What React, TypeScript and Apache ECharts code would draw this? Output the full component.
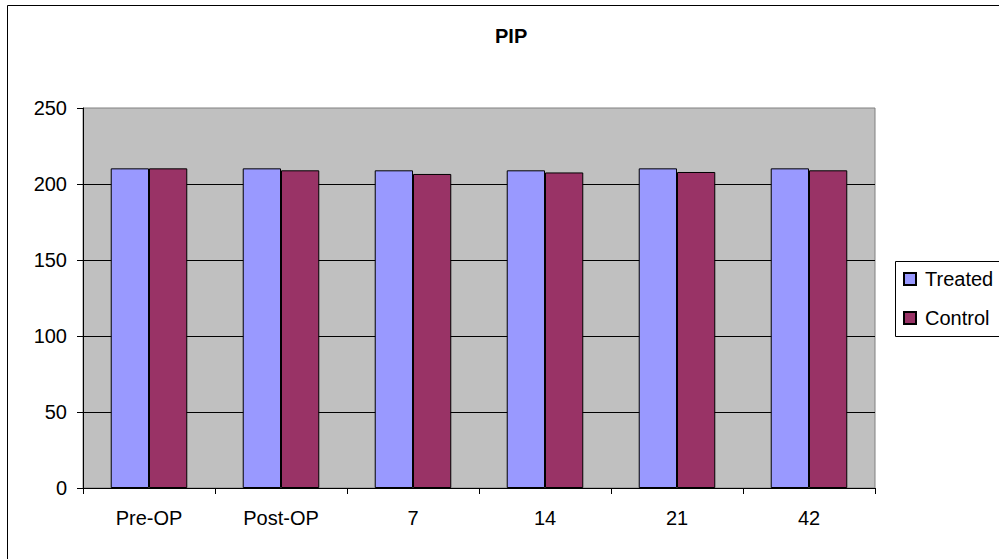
import React, { useEffect, useRef } from "react";
import * as echarts from "echarts";

const categories = ["Pre-OP", "Post-OP", "7", "14", "21", "42"];
const treated = [210.3, 210.3, 209, 209, 210.3, 210.3];
const control = [210.3, 209, 206.6, 207.6, 207.9, 209];
const seriesNames = ["Treated", "Control"];
const titleText = "PIP";

const FONT = "'Liberation Sans', Arial, Helvetica, sans-serif";

export default function App() {
  const ref = useRef<HTMLDivElement>(null);
  useEffect(() => {
    if (!ref.current) return;
    const chart = echarts.init(ref.current, undefined, { renderer: "svg" });
    chart.setOption({
      animation: false,
      backgroundColor: "#ffffff",
      textStyle: { fontFamily: FONT },
      title: {
        text: titleText,
        left: 495,
        top: 26,
        padding: 0,
        textStyle: { fontFamily: FONT, fontSize: 20, fontWeight: "bold", color: "#000" },
      },
      graphic: [
        {
          type: "rect",
          shape: { x: 7.5, y: 5.5, width: 1100, height: 700 },
          style: { fill: "none", stroke: "#000", lineWidth: 1 },
          silent: true,
          z: 100,
        },
        {
          type: "rect",
          shape: { x: 895.5, y: 261.5, width: 200, height: 75 },
          style: { fill: "#fff", stroke: "#000", lineWidth: 1 },
          silent: true,
          z: 1,
        },
      ],
      legend: {
        orient: "vertical",
        left: 903,
        top: 267,
        padding: 0,
        itemWidth: 12,
        itemHeight: 12,
        itemGap: 15,
        icon: "rect",
        data: seriesNames,
        z: 10,
        textStyle: { fontFamily: FONT, fontSize: 20, color: "#000", lineHeight: 24, padding: [0, 0, 0, 4] },
      },
      grid: {
        left: 83,
        right: 124,
        top: 108,
        bottom: 71,
        show: true,
        backgroundColor: "#c0c0c0",
        borderColor: "#808080",
        borderWidth: 1,
      },
      xAxis: {
        type: "category",
        data: categories,
        axisLine: { show: true, lineStyle: { color: "#000", width: 1 } },
        axisTick: { show: true, length: 6, lineStyle: { color: "#000" } },
        axisLabel: { fontFamily: FONT, fontSize: 20, color: "#000", margin: 20 },
        splitLine: { show: false },
      },
      yAxis: {
        type: "value",
        min: 0,
        max: 250,
        interval: 50,
        axisLine: { show: true, lineStyle: { color: "#000", width: 1 } },
        axisTick: { show: true, length: 6, lineStyle: { color: "#000" } },
        axisLabel: { fontFamily: FONT, fontSize: 20, color: "#000", margin: 16 },
        splitLine: { show: true, showMinLine: false, showMaxLine: false, lineStyle: { color: "#000", width: 1 } },
      },
      series: [
        {
          name: seriesNames[0],
          type: "bar",
          data: treated,
          barGap: "0%",
          barCategoryGap: "42%",
          itemStyle: { color: "#9999ff", borderColor: "#000", borderWidth: 1 },
        },
        {
          name: seriesNames[1],
          type: "bar",
          data: control,
          itemStyle: { color: "#993366", borderColor: "#000", borderWidth: 1 },
        },
      ],
    });
    return () => chart.dispose();
  }, []);
  return (
    <div
      ref={ref}
      style={{ position: "fixed", left: 0, top: 0, width: 999, height: 559 }}
    />
  );
}
